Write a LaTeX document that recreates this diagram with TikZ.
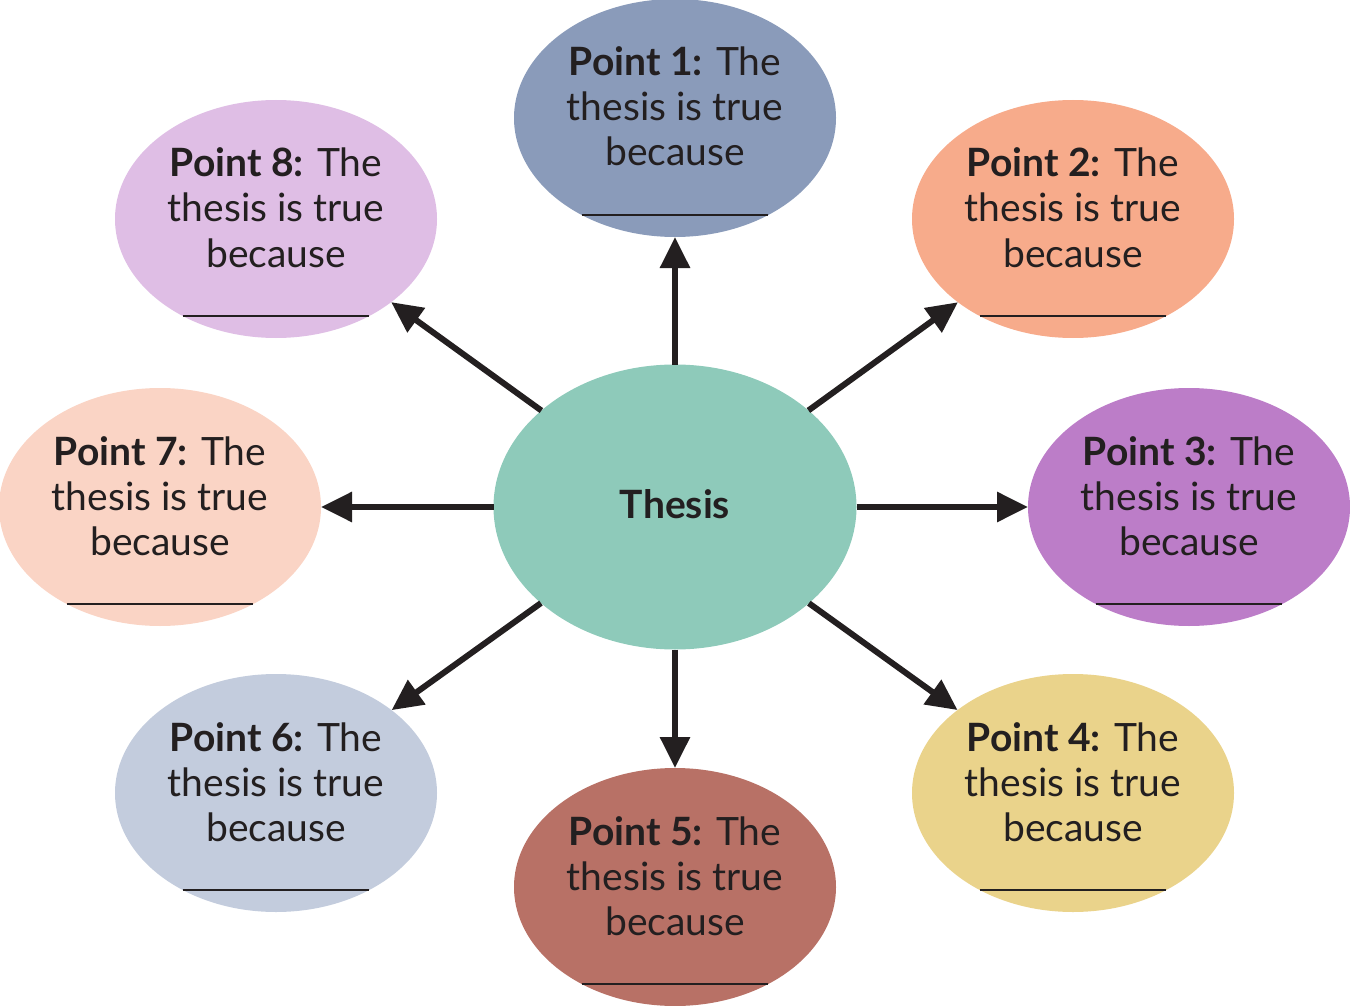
\documentclass[tikz,border=0pt]{standalone}
\usepackage{fontspec}
\setmainfont{Lato}
\usetikzlibrary{shapes.geometric,arrows.meta}
\definecolor{ink}{HTML}{231F20}
\definecolor{c1}{HTML}{8A9BBA}
\definecolor{c2}{HTML}{F7AB8B}
\definecolor{c3}{HTML}{BC7DC8}
\definecolor{c4}{HTML}{EAD38B}
\definecolor{c5}{HTML}{B87166}
\definecolor{c6}{HTML}{C3CCDD}
\definecolor{c7}{HTML}{FAD4C5}
\definecolor{c8}{HTML}{DFBEE5}
\definecolor{cth}{HTML}{8ECABA}
\begin{document}
\begin{tikzpicture}[x=1pt,y=-1pt,
  blob/.style={ellipse, draw=none, inner sep=0pt, outer sep=0pt, minimum width=322pt, minimum height=238pt},
  lbl/.style={anchor=base, inner sep=0pt, font=\fontsize{39}{45}\selectfont, text=ink},
  arr/.style={-{Triangle[length=31pt,width=29pt]}, line width=6pt, draw=ink},
  uline/.style={line width=2pt, draw=ink}]
\useasboundingbox (0,0) rectangle (1350,1006);
\node[ellipse, fill=cth, draw=none, inner sep=0pt, outer sep=0pt, minimum width=363pt, minimum height=285pt] (th) at (675,507) {};
\node[lbl] (thl) at (675,518) {\bfseries Thesis};
\foreach \n/\x/\y/\c in {1/675/118/c1, 2/1073/219/c2, 3/1189/507/c3, 4/1073/793/c4, 5/675/887/c5, 6/276/793/c6, 7/160/507/c7, 8/276/219/c8}{
  \node[blob, fill=\c] (p\n) at (\x,\y) {};
  \node[lbl] (p\n a) at (\x,\y-42) {{\bfseries Point \n:} The};
  \node[lbl] (p\n b) at (\x,\y+3) {thesis is true};
  \node[lbl] (p\n c) at (\x,\y+48) {because};
  \coordinate (u\n l) at (\x-93,\y+97);
  \coordinate (u\n r) at (\x+93,\y+97);
  \draw[uline] (u\n l) -- (u\n r);
  \draw[arr] (th) -- (p\n);
}
\end{tikzpicture}
\end{document}
